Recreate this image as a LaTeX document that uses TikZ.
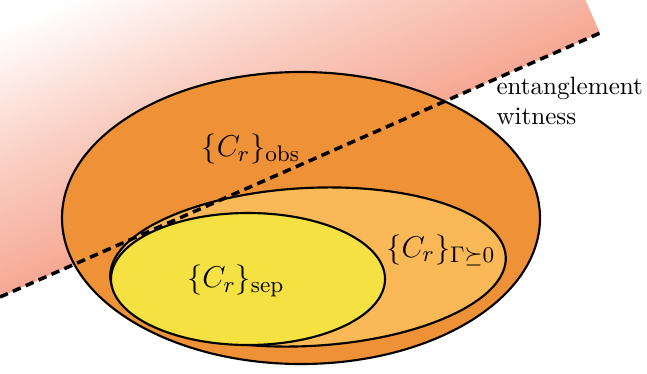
\documentclass[tikz,border=0pt]{standalone}
\usepackage{amsmath}
\usepackage{amssymb}
\usepackage{tikz}
\usetikzlibrary{positioning}

\definecolor{faixa}{RGB}{246,168,148}
\definecolor{obscor}{RGB}{238,145,55}
\definecolor{pptcor}{RGB}{250,185,86}
\definecolor{sepcor}{RGB}{245,226,66}

\begin{document}
\begin{tikzpicture}[
      x=0.014cm, y=-0.014cm,
      conjunto/.style={draw=black, line width=0.85pt},
      rotulo/.style={font=\fontsize{13}{15}\selectfont},
      testemunha/.style={black, line width=1.4pt, dash pattern=on 3.4pt off 2.2pt}
  ]
      \useasboundingbox (0,0) rectangle (647,373);

      % Semiplano acima da testemunha (gradiente)
      \begin{scope}
        \clip (0,0) rectangle (647,373);
        \begin{scope}[transform canvas={shift={(0,297)}, rotate=23.75}]
          \shade[top color=white, bottom color=faixa, middle color=faixa!55!white]
                (-50,0) rectangle (655.5,-244);
        \end{scope}
      \end{scope}

      % Conjuntos encaixados
      \draw[conjunto, fill=obscor] (301,218) ellipse [x radius=239, y radius=146];
      \draw[conjunto, fill=pptcor, shift={(308,267)}, rotate=3]
            (0,0) ellipse [x radius=198, y radius=79];
      \draw[conjunto, fill=sepcor] (248,279) ellipse [x radius=137, y radius=66];

      % Hiperplano da testemunha
      \coordinate (wa) at (0,297);
      \coordinate (wb) at (600,33);
      \draw[testemunha] (wa) -- (wb);

      % Rótulos
      \node[rotulo] (obs) at (251,149) {$\{C_r\}_{\mathrm{obs}}$};
      \node[rotulo] (ppt) at (441,250) {$\{C_r\}_{\Gamma\succeq0}$};
      \node[rotulo] (sep) at (236,281) {$\{C_r\}_{\mathrm{sep}}$};
      \node[anchor=west, align=left, inner sep=0pt] (wit) at (496,101) {entanglement\\witness};
  \end{tikzpicture}
\end{document}
